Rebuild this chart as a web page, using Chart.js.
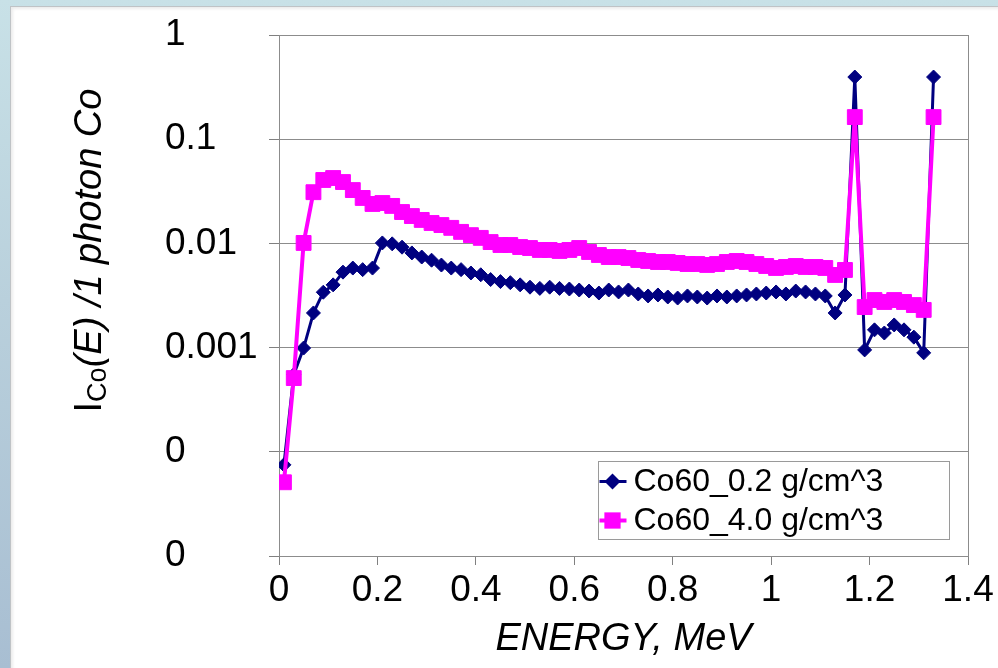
<!DOCTYPE html>
<html><head><meta charset="utf-8">
<script src="https://cdn.jsdelivr.net/npm/chart.js@4.4.0/dist/chart.umd.min.js"></script>
<style>
html,body{margin:0;padding:0;width:998px;height:668px;overflow:hidden;}
body{background:linear-gradient(180deg,#c8e1e7 0%,#b9d0dc 45%,#a8bed2 100%);position:relative;}
#panel{position:absolute;left:10px;top:6px;right:0;bottom:0;background:#fff;border-left:1px solid #bfc3c6;border-top:1px solid #bfc3c6;box-shadow:inset 2px 2px 3px rgba(0,0,0,0.08);}
#wrap{position:absolute;left:0;top:0;width:998px;height:668px;}
</style></head>
<body><div id="panel"></div><div id="wrap"><canvas id="c" width="998" height="668"></canvas></div>
<script>
const energies = [
 0.01,0.03,0.05,0.07,0.09,0.11,0.13,0.15,0.17,0.19,
 0.21,0.23,0.25,0.27,0.29,0.31,0.33,0.35,0.37,0.39,
 0.41,0.43,0.45,0.47,0.49,0.51,0.53,0.55,0.57,0.59,
 0.61,0.63,0.65,0.67,0.69,0.71,0.73,0.75,0.77,0.79,
 0.81,0.83,0.85,0.87,0.89,0.91,0.93,0.95,0.97,0.99,
 1.01,1.03,1.05,1.07,1.09,1.11,1.13,1.15,1.17,1.19,
 1.21,1.23,1.25,1.27,1.29,1.31,1.33];
const seriesNames = ['Co60_0.2 g/cm^3', 'Co60_4.0 g/cm^3'];
const co60Low = [
 7.5e-5,5.5e-4,9.9e-4,2.15e-3,3.4e-3,4.0e-3,5.3e-3,5.8e-3,5.6e-3,5.8e-3,
 1.01e-2,9.9e-3,9.2e-3,8.1e-3,7.4e-3,6.9e-3,6.2e-3,5.8e-3,5.6e-3,5.2e-3,
 5.0e-3,4.5e-3,4.3e-3,4.2e-3,4.0e-3,3.8e-3,3.7e-3,3.8e-3,3.7e-3,3.65e-3,
 3.57e-3,3.49e-3,3.34e-3,3.57e-3,3.42e-3,3.57e-3,3.27e-3,3.13e-3,3.2e-3,3.06e-3,
 2.99e-3,3.13e-3,3.06e-3,2.99e-3,3.13e-3,3.06e-3,3.13e-3,3.2e-3,3.27e-3,3.34e-3,
 3.42e-3,3.27e-3,3.49e-3,3.42e-3,3.27e-3,3.13e-3,2.15e-3,3.2e-3,0.395,9.5e-4,
 1.48e-3,1.38e-3,1.65e-3,1.48e-3,1.26e-3,8.9e-4,0.395];
const co60High = [
 5.1e-5,5.1e-4,1.01e-2,3.1e-2,4.06e-2,4.24e-2,3.88e-2,3.25e-2,2.73e-2,2.39e-2,
 2.44e-2,2.29e-2,2.0e-2,1.83e-2,1.68e-2,1.57e-2,1.5e-2,1.41e-2,1.29e-2,1.2e-2,
 1.13e-2,1.03e-2,9.65e-3,9.65e-3,9.23e-3,9.03e-3,8.65e-3,8.65e-3,8.46e-3,8.65e-3,
 9.03e-3,8.27e-3,7.74e-3,7.4e-3,7.4e-3,7.24e-3,6.93e-3,6.78e-3,6.63e-3,6.63e-3,
 6.49e-3,6.34e-3,6.34e-3,6.21e-3,6.34e-3,6.63e-3,6.78e-3,6.63e-3,6.34e-3,6.07e-3,
 5.81e-3,5.94e-3,6.07e-3,5.94e-3,5.94e-3,5.81e-3,4.98e-3,5.56e-3,0.163,2.45e-3,
 2.86e-3,2.74e-3,2.86e-3,2.74e-3,2.56e-3,2.3e-3,0.163];
const xTickValues = [0,0.2,0.4,0.6,0.8,1,1.2,1.4];
const xTickLabels = ['0','0.2','0.4','0.6','0.8','1','1.2','1.4'];
const yTickValues = [0.00001,0.0001,0.001,0.01,0.1,1];
const yTickLabels = ['0','0','0.001','0.01','0.1','1'];
const xTitle = 'ENERGY, MeV';
const yTitleParts = [
 {t:'I', style:'', size:38, dy:0},
 {t:'Co', style:'', size:27, dy:5},
 {t:'(', style:'italic ', size:38, dy:0},
 {t:'E', style:'italic ', size:38, dy:0},
 {t:')', style:'italic ', size:38, dy:0},
 {t:' /1 photon Co', style:'italic ', size:38, dy:0}
];

const FF = "'Liberation Sans', Arial, sans-serif";

const frame = {
  id:'frame',
  beforeDatasetsDraw(chart){
    const {ctx, chartArea:a} = chart;
    ctx.save();
    ctx.strokeStyle = '#8c8c8c'; ctx.lineWidth = 1;
    ctx.strokeRect(Math.round(a.left)+0.5, Math.round(a.top)+0.5, Math.round(a.right-a.left), Math.round(a.bottom-a.top));
    ctx.restore();
  }
};

const yTitle = {
  id:'yTitle',
  afterDraw(chart){
    const {ctx, chartArea:a} = chart;
    ctx.save();
    let total = 0;
    const w = yTitleParts.map(p => { ctx.font = p.style + p.size + 'px ' + FF; const m = ctx.measureText(p.t).width; total += m; return m; });
    ctx.translate(a.left - 178, (a.top + a.bottom)/2 - 45);
    ctx.rotate(-Math.PI/2);
    ctx.fillStyle = '#000';
    ctx.textBaseline = 'alphabetic';
    let x = -total/2;
    yTitleParts.forEach((p,i) => { ctx.font = p.style + p.size + 'px ' + FF; ctx.fillText(p.t, x, p.dy); x += w[i]; });
    ctx.restore();
  }
};

function marker(ctx, style, r, x, y, color){
  ctx.fillStyle = color; ctx.beginPath();
  if (style === 'rect') { const s = r*Math.SQRT1_2; ctx.rect(x-s, y-s, 2*s, 2*s); }
  else { ctx.moveTo(x-r,y); ctx.lineTo(x,y-r); ctx.lineTo(x+r,y); ctx.lineTo(x,y+r); ctx.closePath(); }
  ctx.fill();
}

const legendBox = {
  id:'legendBox',
  afterDraw(chart){
    const {ctx, chartArea:a} = chart;
    const bw = 351, bh = 78;
    const bx = Math.round(a.right - 19 - bw) + 0.5, by = Math.round(a.bottom - 17 - bh) + 0.5;
    ctx.save();
    ctx.fillStyle = '#fff'; ctx.fillRect(bx, by, bw, bh);
    ctx.strokeStyle = '#9a9a9a'; ctx.lineWidth = 1; ctx.strokeRect(bx, by, bw, bh);
    chart.data.datasets.forEach((ds, i) => {
      const cy = by + 20 + i*39;
      ctx.strokeStyle = ds.borderColor; ctx.lineWidth = ds.borderWidth;
      ctx.beginPath(); ctx.moveTo(bx+1, cy); ctx.lineTo(bx+28, cy); ctx.stroke();
      marker(ctx, ds.pointStyle, ds.pointRadius + 1, bx + 14, cy, ds.borderColor);
      ctx.fillStyle = '#000'; ctx.font = '32px ' + FF; ctx.textBaseline = 'middle'; ctx.textAlign = 'left';
      ctx.fillText(ds.label, bx + 35, cy + 1);
    });
    ctx.restore();
  }
};

new Chart(document.getElementById('c'), {
  type:'line',
  data:{
    datasets:[
      {label:seriesNames[0], data:energies.map((e,i)=>({x:e,y:co60Low[i]})), borderColor:'#000080', backgroundColor:'#000080',
       borderWidth:3, pointStyle:'rectRot', pointRadius:7, pointBorderWidth:1, pointHoverRadius:7, order:1, tension:0},
      {label:seriesNames[1], data:energies.map((e,i)=>({x:e,y:co60High[i]})), borderColor:'#ff00ff', backgroundColor:'#ff00ff',
       borderWidth:4, pointStyle:'rect', pointRadius:10.5, pointBorderWidth:1, pointHoverRadius:10.5, order:0, tension:0}
    ]
  },
  options:{
    responsive:false, animation:false,
    layout:{padding:{left:165, top:35, right:30, bottom:0}},
    plugins:{legend:{display:false}, tooltip:{enabled:false}},
    scales:{
      x:{type:'linear', min:0, max:1.4, position:'bottom',
        afterBuildTicks:s=>{ s.ticks = xTickValues.map(v=>({value:v})); },
        afterFit:s=>{ s.height = 112; },
        ticks:{callback:(v,i)=>xTickLabels[i], font:{family:FF, size:37}, color:'#000', padding:4, maxRotation:0, autoSkip:false},
        grid:{drawOnChartArea:false, drawTicks:true, tickLength:9, tickColor:'#808080'},
        border:{color:'#808080', width:1},
        title:{display:true, text:xTitle, font:{family:FF, size:38, style:'italic'}, color:'#000', padding:{top:0, bottom:6}}
      },
      y:{type:'logarithmic', min:0.00001, max:1, position:'left',
        afterBuildTicks:s=>{ s.ticks = yTickValues.map(v=>({value:v})); },
        afterFit:s=>{ s.width = 114; },
        ticks:{callback:(v,i)=>yTickLabels[i], font:{family:FF, size:37}, color:'#000', crossAlign:'far', padding:6, autoSkip:false},
        grid:{color:'#8c8c8c', lineWidth:1, drawTicks:true, tickLength:10, tickColor:'#808080'},
        border:{color:'#808080', width:1}
      }
    }
  },
  plugins:[frame, yTitle, legendBox]
});
</script>
</body></html>
